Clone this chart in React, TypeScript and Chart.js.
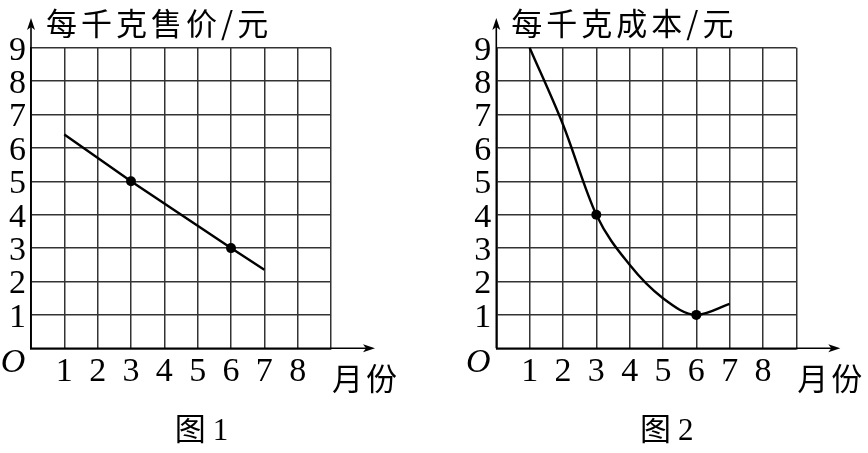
import React, { useEffect, useRef } from "react";
import { Chart, registerables } from "chart.js";

Chart.register(...registerables);

// ---- data ----
const monthLabels = [1, 2, 3, 4, 5, 6, 7, 8];
const valueLabels = [1, 2, 3, 4, 5, 6, 7, 8, 9];

const priceMonths = [1, 3, 6, 7];
const priceValues = [6.4, 5, 3, 2.35];
const priceDots = [3, 6];

const costMonths = [1, 2, 3, 4, 5, 6, 7];
const costValues = [9, 6.7, 4, 2.5, 1.5, 1, 1.33];
const costDots = [3, 6];

const panelTitles = ["每千克售价/元", "每千克成本/元"];
const panelCaptions = ["图1", "图2"];
const xAxisName = "月份";
const originName = "O";

const CJK = '"Noto Sans CJK SC"';
const SERIF = '"Liberation Serif", "Times New Roman", serif';

const decorPlugin = {
  id: "decor",
  afterDraw(chart: any, _args: any, opts: any) {
    const ctx = chart.ctx as CanvasRenderingContext2D;
    const xs = chart.scales.x;
    const ys = chart.scales.y;
    const x0 = xs.getPixelForValue(0);
    const y0 = ys.getPixelForValue(0);
    const x9 = xs.getPixelForValue(9);
    ctx.save();
    ctx.strokeStyle = "#000";
    ctx.fillStyle = "#000";
    ctx.lineWidth = 1.6;
    // y axis with arrow
    ctx.beginPath();
    ctx.moveTo(x0, y0);
    ctx.lineTo(x0, 24);
    ctx.stroke();
    ctx.beginPath();
    ctx.moveTo(x0, 18);
    ctx.lineTo(x0 - 4, 30);
    ctx.lineTo(x0, 27);
    ctx.lineTo(x0 + 4, 30);
    ctx.closePath();
    ctx.fill();
    // x axis with arrow
    const tip = x9 + 44;
    ctx.beginPath();
    ctx.moveTo(x0, y0);
    ctx.lineTo(tip - 4, y0);
    ctx.stroke();
    ctx.beginPath();
    ctx.moveTo(tip, y0);
    ctx.lineTo(tip - 12, y0 - 4);
    ctx.lineTo(tip - 9, y0);
    ctx.lineTo(tip - 12, y0 + 4);
    ctx.closePath();
    ctx.fill();
    // texts
    ctx.textBaseline = "middle";
    ctx.textAlign = "left";
    ctx.font = `31px ${CJK}`;
    (ctx as any).letterSpacing = "4px";
    ctx.fillText(opts.title, x0 + 15, 23);
    (ctx as any).letterSpacing = "3px";
    ctx.fillText(xAxisName, x9 + 1, 378);
    (ctx as any).letterSpacing = "0px";
    ctx.font = `italic 34px ${SERIF}`;
    ctx.textAlign = "center";
    ctx.fillText(originName, x0 - 18, 363);
    ctx.font = `31px ${SERIF}, ${CJK}`;
    (ctx as any).letterSpacing = "7px";
    ctx.fillText(opts.caption, (x0 + x9) / 2 + 24, 432);
    ctx.restore();
  },
};

type PanelProps = {
  months: number[];
  values: number[];
  dots: number[];
  title: string;
  caption: string;
  smooth: boolean;
  axisLeft: number;
  rightPad: number;
};

function Panel(p: PanelProps) {
  const ref = useRef<HTMLCanvasElement | null>(null);
  useEffect(() => {
    if (!ref.current) return;
    const chart = new Chart(ref.current, {
      type: "line",
      data: {
        datasets: [
          {
            data: p.months.map((m, i) => ({ x: m, y: p.values[i] })),
            borderColor: "#000",
            borderWidth: 2.4,
            backgroundColor: "#000",
            pointBackgroundColor: "#000",
            pointBorderWidth: 0,
            pointRadius: (c: any) => (p.dots.includes(p.months[c.dataIndex]) ? 5 : 0),
            pointHoverRadius: 5,
            tension: p.smooth ? 0.4 : 0,
            cubicInterpolationMode: p.smooth ? "monotone" : "default",
            clip: false,
            fill: false,
          } as any,
        ],
      },
      options: {
        animation: false,
        responsive: false,
        devicePixelRatio: 1,
        events: [],
        layout: { padding: { top: 47.7, right: p.rightPad, bottom: 0, left: 0 } },
        plugins: {
          legend: { display: false },
          tooltip: { enabled: false },
          title: { display: false },
          decor: { title: p.title, caption: p.caption },
        } as any,
        scales: {
          x: {
            type: "linear",
            min: 0,
            max: 9,
            afterFit: (s: any) => {
              s.height = 104.7;
            },
            ticks: {
              stepSize: 1,
              autoSkip: false,
              maxRotation: 0,
              padding: 3,
              color: "#000",
              font: { family: SERIF, size: 34 },
              callback: (v: any) => (monthLabels.includes(Number(v)) ? String(v) : ""),
            },
            grid: { color: "#333", lineWidth: 1.5, drawTicks: false },
            border: { display: true, color: "#000", width: 1.6 },
          },
          y: {
            type: "linear",
            min: 0,
            max: 9,
            afterFit: (s: any) => {
              s.width = p.axisLeft;
            },
            ticks: {
              stepSize: 1,
              autoSkip: false,
              padding: 5,
              labelOffset: 3,
              color: "#000",
              font: { family: SERIF, size: 34 },
              callback: (v: any) => (valueLabels.includes(Number(v)) ? String(v) : ""),
            },
            grid: { color: "#333", lineWidth: 1.5, drawTicks: false },
            border: { display: true, color: "#000", width: 1.6 },
          },
        },
      },
      plugins: [decorPlugin],
    });
    return () => chart.destroy();
  }, []);
  return <canvas ref={ref} width={434} height={453} style={{ display: "block", width: 434, height: 453 }} />;
}

export default function App() {
  return (
    <div
      style={{
        position: "absolute",
        left: 0,
        top: 0,
        width: 868,
        height: 453,
        background: "#fff",
        display: "flex",
      }}
    >
      <Panel
        months={priceMonths}
        values={priceValues}
        dots={priceDots}
        title={panelTitles[0]}
        caption={panelCaptions[0]}
        smooth={false}
        axisLeft={31}
        rightPad={103}
      />
      <Panel
        months={costMonths}
        values={costValues}
        dots={costDots}
        title={panelTitles[1]}
        caption={panelCaptions[1]}
        smooth={true}
        axisLeft={62.3}
        rightPad={71.7}
      />
    </div>
  );
}
